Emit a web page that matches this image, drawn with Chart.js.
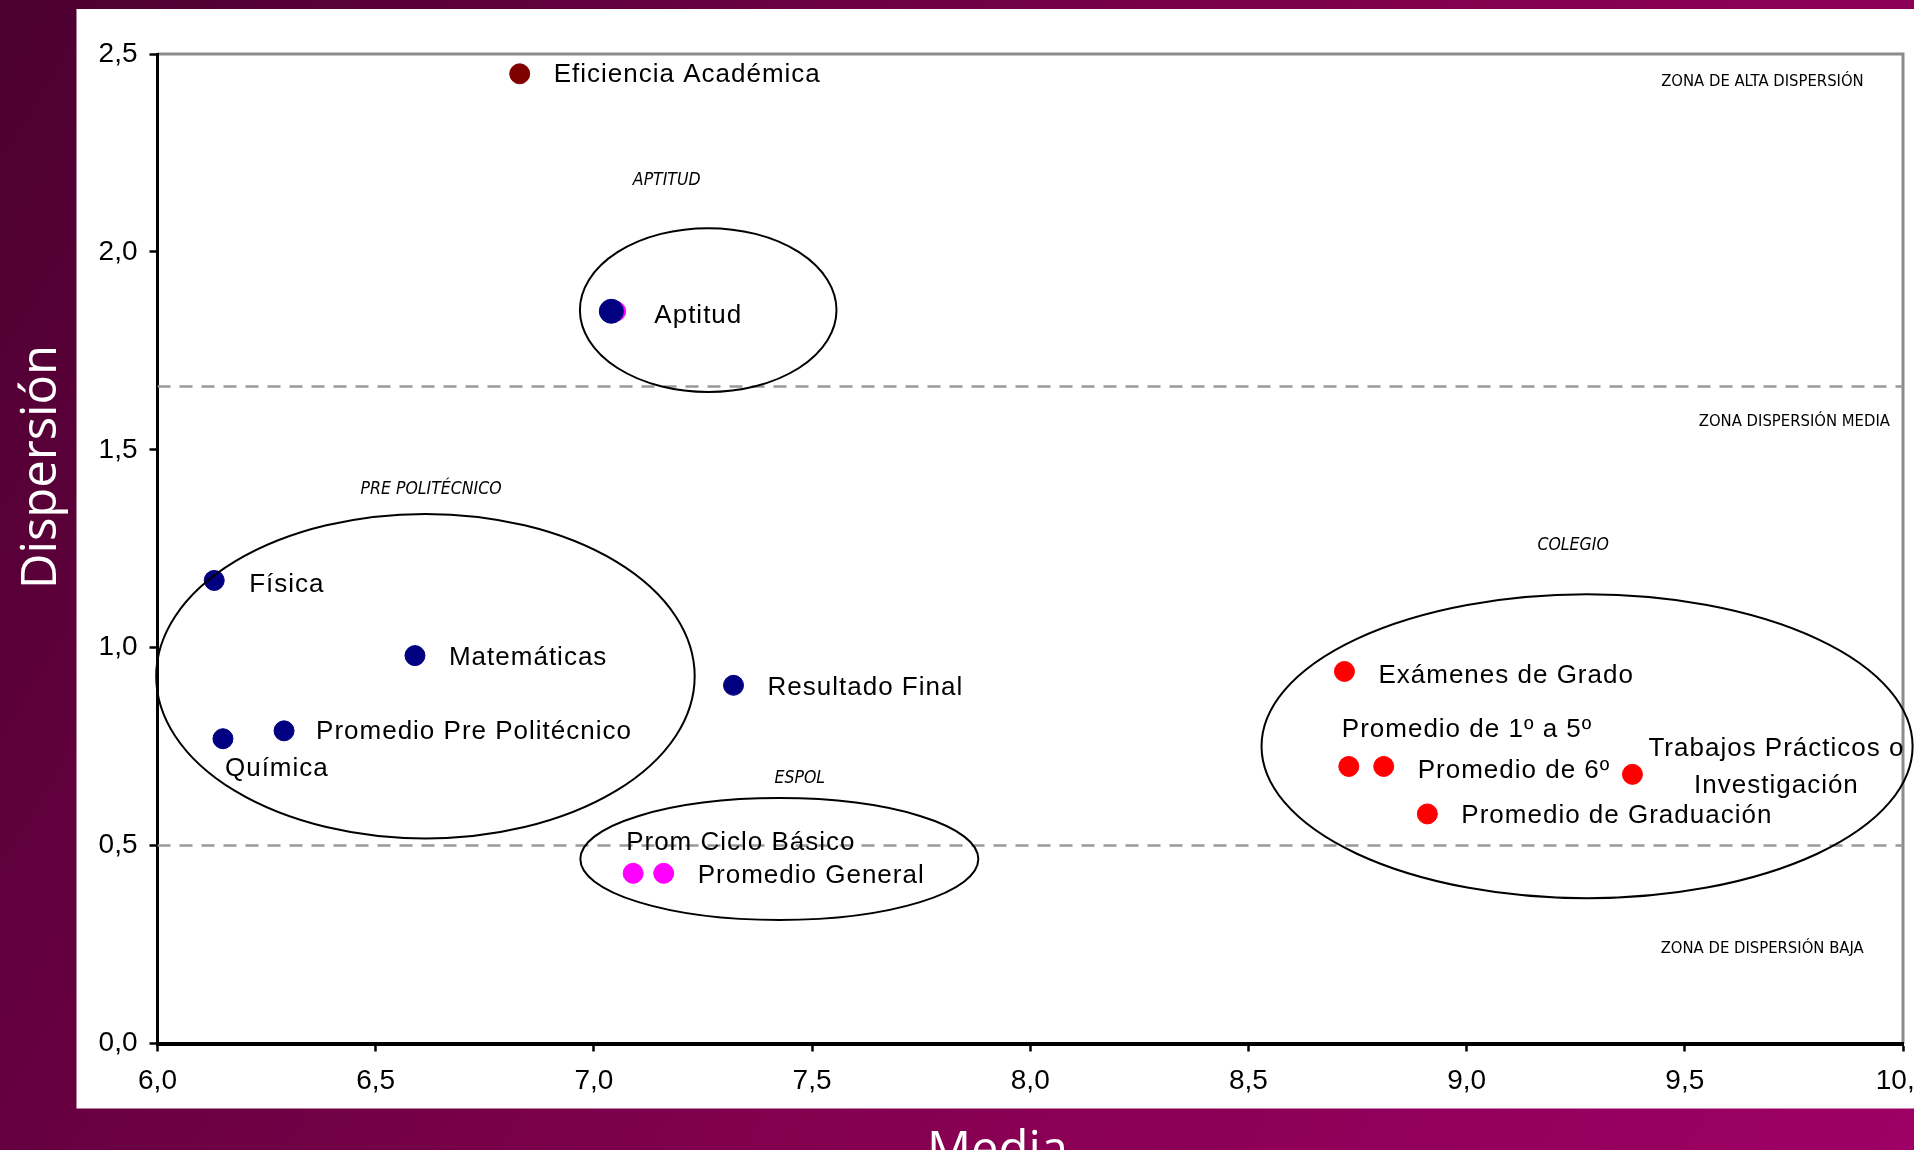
<!DOCTYPE html>
<html>
<head>
<meta charset="utf-8">
<script src="https://cdn.jsdelivr.net/npm/chart.js@4.4.1/dist/chart.umd.min.js"></script>
<style>
  html, body { margin: 0; padding: 0; overflow: hidden; background: #5a003b; }
  canvas { display: block; }
</style>
</head>
<body>
<canvas id="myChart" width="1960" height="1200"></canvas>
<script>
// values
const eficienciaNombres = ["Eficiencia Académica"];
const eficienciaMedia = [6.83];
const eficienciaDisp = [2.45];

const politecnicoNombres = ["Aptitud", "Física", "Matemáticas", "Química", "Promedio Pre Politécnico", "Resultado Final"];
const politecnicoMedia = [7.04, 6.13, 6.59, 6.15, 6.29, 7.32];
const politecnicoDisp = [1.85, 1.17, 0.98, 0.77, 0.79, 0.905];

const espolNombres = ["Aptitud", "Prom Ciclo Básico", "Promedio General"];
const espolMedia = [7.05, 7.09, 7.16];
const espolDisp = [1.85, 0.43, 0.43];

const colegioNombres = ["Exámenes de Grado", "Promedio de 1º a 5º", "Promedio de 6º", "Trabajos Prácticos o Investigación", "Promedio de Graduación"];
const colegioMedia = [8.72, 8.73, 8.81, 9.38, 8.91];
const colegioDisp = [0.94, 0.70, 0.70, 0.68, 0.58];

const umbrales = [1.66, 0.5];
const xMin = 6, xMax = 10, xPaso = 0.5;
const yMin = 0, yMax = 2.5, yPaso = 0.5;

const zonas = ["ZONA DE ALTA DISPERSIÓN", "ZONA DISPERSIÓN MEDIA", "ZONA DE DISPERSIÓN BAJA"];
const grupos = ["APTITUD", "PRE POLITÉCNICO", "ESPOL", "COLEGIO"];

// where the annotations sit (data units)
const zonaPos = [{x: 9.91, y: 2.43}, {x: 9.97, y: 1.57}, {x: 9.91, y: 0.24}];
const grupoPos = [
  {tx: 7.167, ty: 2.18, cx: 7.262, cy: 1.853, rx: 0.294, ry: 0.207},
  {tx: 6.627, ty: 1.40, cx: 6.614, cy: 0.928, rx: 0.617, ry: 0.41},
  {tx: 7.472, ty: 0.669, cx: 7.425, cy: 0.466, rx: 0.456, ry: 0.154},
  {tx: 9.244, ty: 1.258, cx: 9.276, cy: 0.751, rx: 0.746, ry: 0.384}
];

// label offsets in px from the point
const etiquetaPos = {
  "Eficiencia Académica": {dx: 34, dy: 1},
  "Aptitud": {dx: 43, dy: 5},
  "Física": {dx: 35, dy: 4},
  "Matemáticas": {dx: 34, dy: 2},
  "Química": {dx: 2, dy: 30},
  "Promedio Pre Politécnico": {dx: 32, dy: 1},
  "Resultado Final": {dx: 34, dy: 3},
  "Prom Ciclo Básico": {dx: -7, dy: -30},
  "Promedio General": {dx: 34, dy: 3},
  "Exámenes de Grado": {dx: 34, dy: 4},
  "Promedio de 1º a 5º": {dx: -7, dy: -37},
  "Promedio de 6º": {dx: 34, dy: 4},
  "Trabajos Prácticos o Investigación": {dx: 144, dy: -26, lines: ["Trabajos Prácticos o", "Investigación"], center: true},
  "Promedio de Graduación": {dx: 34, dy: 2}
};

function puntos(media, disp) {
  return media.map((m, i) => ({x: m, y: disp[i]}));
}

function coma(v) {
  return v.toFixed(1).replace(".", ",");
}

const fondo = {
  id: "fondo",
  beforeDraw(chart) {
    const {ctx, chartArea: ca, width, height} = chart;
    ctx.save();
    const g = ctx.createLinearGradient(0, 0, width, height);
    g.addColorStop(0, "#4c0031");
    g.addColorStop(0.55, "#83004f");
    g.addColorStop(1, "#a00066");
    ctx.fillStyle = g;
    ctx.fillRect(0, 0, width, height);
    ctx.fillStyle = "#ffffff";
    ctx.fillRect(ca.left - 81, ca.top - 45, width, ca.bottom - ca.top + 45 + 65);
    // gray frame top/right
    ctx.strokeStyle = "#8c8c8c";
    ctx.lineWidth = 3;
    ctx.beginPath();
    ctx.moveTo(ca.left, ca.top);
    ctx.lineTo(ca.right, ca.top);
    ctx.lineTo(ca.right, ca.bottom);
    ctx.stroke();
    ctx.restore();
  }
};

const anotaciones = {
  id: "anotaciones",
  afterDatasetsDraw(chart) {
    const {ctx, chartArea: ca} = chart;
    const xs = chart.scales.x, ys = chart.scales.y;
    ctx.save();

    // group ellipses
    ctx.strokeStyle = "#000";
    ctx.lineWidth = 2;
    grupoPos.forEach((g) => {
      const cx = xs.getPixelForValue(g.cx), cy = ys.getPixelForValue(g.cy);
      const rx = Math.abs(xs.getPixelForValue(g.cx + g.rx) - cx);
      const ry = Math.abs(ys.getPixelForValue(g.cy + g.ry) - cy);
      ctx.beginPath();
      ctx.ellipse(cx, cy, rx, ry, 0, 0, Math.PI * 2);
      ctx.stroke();
    });

    // group names
    ctx.fillStyle = "#000";
    ctx.font = "italic 17.5px 'DejaVu Sans Condensed', 'DejaVu Sans', sans-serif";
    ctx.textAlign = "center";
    ctx.textBaseline = "middle";
    grupos.forEach((t, i) => {
      ctx.fillText(t, xs.getPixelForValue(grupoPos[i].tx), ys.getPixelForValue(grupoPos[i].ty));
    });

    // zone names
    ctx.font = "16.5px 'DejaVu Sans Condensed', 'DejaVu Sans', sans-serif";
    ctx.textAlign = "right";
    zonas.forEach((t, i) => {
      ctx.fillText(t, xs.getPixelForValue(zonaPos[i].x), ys.getPixelForValue(zonaPos[i].y));
    });

    // point labels
    ctx.font = "26px 'Liberation Sans', Arial, sans-serif";
    ctx.letterSpacing = "1px";
    chart.data.datasets.forEach((ds, di) => {
      if (!ds.nombres) return;
      const meta = chart.getDatasetMeta(di);
      ds.nombres.forEach((n, i) => {
        if (ds.sinEtiqueta && ds.sinEtiqueta.includes(i)) return;
        const p = meta.data[i];
        const o = etiquetaPos[n];
        if (!o) return;
        if (o.lines) {
          ctx.textAlign = "center";
          o.lines.forEach((l, k) => ctx.fillText(l, p.x + o.dx, p.y + o.dy + k * 37));
        } else {
          ctx.textAlign = "left";
          ctx.fillText(n, p.x + o.dx, p.y + o.dy);
        }
      });
    });
    ctx.letterSpacing = "0px";

    // axis titles
    ctx.fillStyle = "#ffffff";
    ctx.font = "49px 'Open Sans', sans-serif";
    ctx.textAlign = "center";
    ctx.textBaseline = "alphabetic";
    ctx.save();
    ctx.translate(ca.left - 102, ca.top + 413);
    ctx.rotate(-Math.PI / 2);
    ctx.fillText("Dispersión", 0, 0);
    ctx.restore();
    ctx.fillText("Media", ca.left + 840, ca.bottom + 122);
    ctx.restore();
  }
};

const lineasUmbral = umbrales.map((u) => ({
  type: "line",
  data: [{x: xMin, y: u}, {x: xMax, y: u}],
  borderColor: "#999999",
  borderWidth: 2.5,
  borderDash: [13, 9],
  pointRadius: 0,
  fill: false,
  order: 5
}));

const tickFont = {family: "'Liberation Sans', Arial, sans-serif", size: 28};

const ctx = document.getElementById("myChart").getContext("2d");
const chart = new Chart(ctx, {
  type: "scatter",
  data: {
    datasets: [
      {
        label: "Eficiencia",
        nombres: eficienciaNombres,
        data: puntos(eficienciaMedia, eficienciaDisp),
        backgroundColor: "#800000",
        borderColor: "#800000",
        pointRadius: 10,
        order: 1
      },
      {
        label: "Politécnico",
        nombres: politecnicoNombres,
        data: puntos(politecnicoMedia, politecnicoDisp),
        backgroundColor: "#000080",
        borderColor: "#000080",
        pointRadius: politecnicoNombres.map((n, i) => (i === 0 ? 12 : 10)),
        order: 1
      },
      {
        label: "ESPOL",
        nombres: espolNombres,
        sinEtiqueta: [0],
        data: puntos(espolMedia, espolDisp),
        backgroundColor: "#ff00ff",
        borderColor: "#ff00ff",
        pointRadius: 10,
        order: 2
      },
      {
        label: "Colegio",
        nombres: colegioNombres,
        data: puntos(colegioMedia, colegioDisp),
        backgroundColor: "#ff0000",
        borderColor: "#ff0000",
        pointRadius: 10,
        order: 1
      },
      ...lineasUmbral
    ]
  },
  options: {
    responsive: false,
    animation: false,
    layout: {padding: {top: 54, right: 57, left: 0, bottom: 0}},
    plugins: {legend: {display: false}, tooltip: {enabled: false}},
    scales: {
      x: {
        type: "linear",
        min: xMin,
        max: xMax,
        afterFit(scale) { scale.height = 156.5; },
        ticks: {
          stepSize: xPaso,
          color: "#000",
          padding: 13,
          font: tickFont,
          callback: (v) => coma(v)
        },
        grid: {drawOnChartArea: false, drawTicks: true, tickLength: 8, tickWidth: 2.5, tickColor: "#000"},
        border: {display: true, color: "#000", width: 4}
      },
      y: {
        type: "linear",
        min: yMin,
        max: yMax,
        afterFit(scale) { scale.width = 157.5; },
        ticks: {
          stepSize: yPaso,
          color: "#000",
          padding: 12,
          font: tickFont,
          callback: (v) => coma(v)
        },
        grid: {drawOnChartArea: false, drawTicks: true, tickLength: 8, tickWidth: 2.5, tickColor: "#000"},
        border: {display: true, color: "#000", width: 3}
      }
    }
  },
  plugins: [fondo, anotaciones]
});
</script>
</body>
</html>
